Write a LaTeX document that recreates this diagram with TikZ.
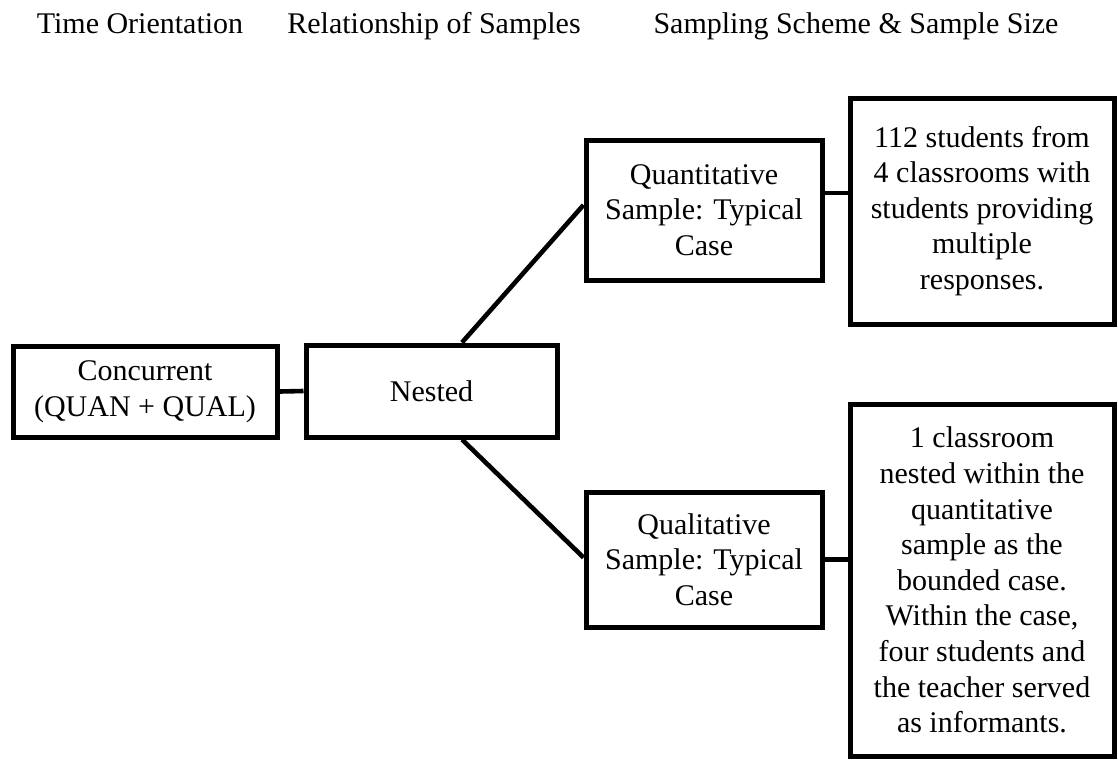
\documentclass[tikz,border=0pt]{standalone}
\usepackage{fontspec}
\setmainfont{Liberation Serif}
\begin{document}
\begin{tikzpicture}[x=1pt,y=-1pt,
  txt/.style={font=\fontsize{30}{35.6}\selectfont},
  box/.style={txt,draw=black,line width=5pt,align=center,inner sep=0pt,
    line join=miter},
  link/.style={draw=black,line width=4.6pt},
  head/.style={txt,anchor=base,inner sep=0pt}]
\useasboundingbox (0,0) rectangle (1118,761);

% column headings
\node[head] (h1) at (140,33) {Time Orientation};
\node[head] (h2) at (434,33) {Relationship of Samples};
\node[head] (h3) at (856,33) {Sampling Scheme \& Sample Size};

% boxes
\node[box,minimum width=264pt,minimum height=91pt] (conc) at (145,391.5)
  {Concurrent\\(QUAN + QUAL)};
\node[box,minimum width=251pt,minimum height=92pt] (nest) at (431.5,391)
  {Nested};
\node[box,minimum width=236pt,minimum height=140pt] (quan) at (704,210)
  {Quantitative\\Sample: Typical\\Case};
\node[box,minimum width=236pt,minimum height=135pt] (qual) at (704,559.5)
  {Qualitative\\Sample: Typical\\Case};
\node[box,minimum width=264pt,minimum height=226pt] (sz1) at (982,211)
  {112 students from\\4 classrooms with\\students providing\\multiple\\responses.};
\node[box,minimum width=264pt,minimum height=352pt] (sz2) at (982,580)
  {1 classroom\\nested within the\\quantitative\\sample as the\\bounded case.\\Within the case,\\four students and\\the teacher served\\as informants.};

% connectors
\draw[link] (conc.east) -- (nest.west);
\draw[link] ([xshift=30.5pt]nest.north) -- ([yshift=5pt]quan.west);
\draw[link] ([xshift=30.5pt]nest.south) -- ([yshift=2pt]qual.west);
\coordinate (j1) at ([yshift=17pt]quan.east);
\draw[link] (j1) -- (j1 -| sz1.west);
\coordinate (j2) at (qual.east);
\draw[link] (j2) -- (j2 -| sz2.west);
\end{tikzpicture}
\end{document}
